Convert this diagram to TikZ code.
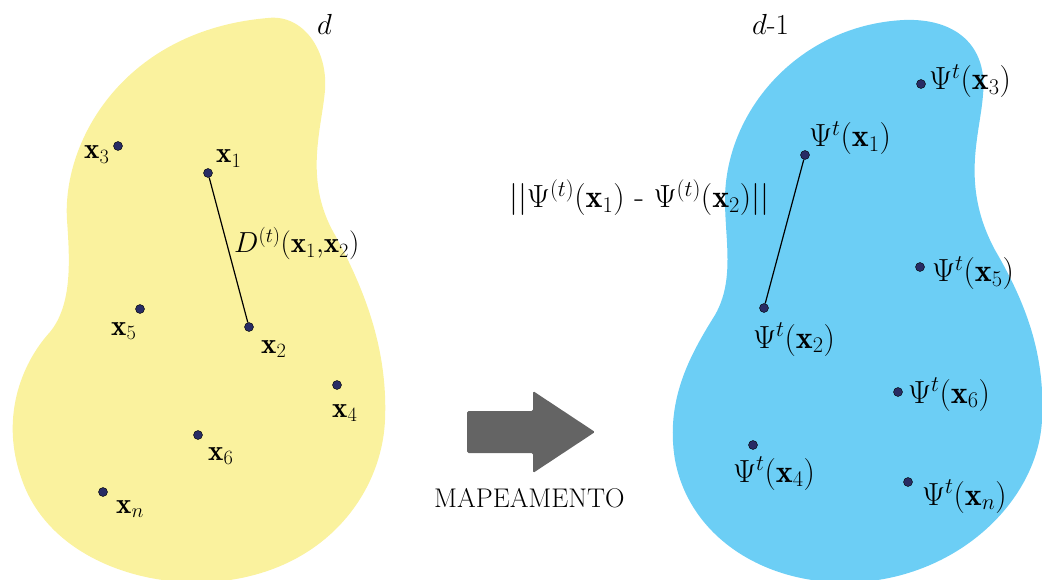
\RequirePackage{fix-cm}
\documentclass[tikz,border=0pt]{standalone}
\usepackage{fontspec}
\definecolor{blobyellow}{RGB}{250,242,158}
\definecolor{blobblue}{RGB}{108,206,245}
\definecolor{dotnavy}{RGB}{40,44,100}
\definecolor{arrowgray}{RGB}{100,100,100}
\tikzset{
  dotpt/.style={circle, fill=dotnavy, draw=black, line width=0.4pt, inner sep=0pt, minimum size=9pt},
  lbl/.style={inner sep=0pt, anchor=base west, font=\fontsize{29}{31}\selectfont},
  plbl/.style={inner sep=0pt, anchor=base west, font=\fontsize{32}{34}\selectfont},
  caption/.style={inner sep=0pt, anchor=base west, font=\fontsize{27}{29}\selectfont},
  link/.style={draw=black, line width=1.2pt},
}
\begin{document}
\begin{tikzpicture}[x=1pt,y=-1pt]
\useasboundingbox (0,0) rectangle (1042,580);
% yellow blob
\fill[blobyellow] (268,18) .. controls (303,14) and (328,50) .. (325,90)
  .. controls (322,128) and (303,180) .. (335,235)
  .. controls (365,290) and (388,350) .. (385,420)
  .. controls (382,490) and (330,565) .. (230,580)
  .. controls (150,592) and (50,560) .. (22,480)
  .. controls (0,420) and (20,365) .. (50,332)
  .. controls (72,305) and (70,262) .. (67,220)
  .. controls (62,140) and (125,30) .. (268,18) -- cycle;
% blue blob
\fill[blobblue] (904,20) .. controls (955,18) and (988,45) .. (983,95)
  .. controls (980,135) and (960,185) .. (995,250)
  .. controls (1030,310) and (1045,360) .. (1042,420)
  .. controls (1038,500) and (960,575) .. (860,582)
  .. controls (770,588) and (690,540) .. (675,460)
  .. controls (665,400) and (690,355) .. (715,315)
  .. controls (735,280) and (725,240) .. (725,200)
  .. controls (725,110) and (800,25) .. (904,20) -- cycle;

% dimension labels
\node[lbl] (dl) at (317,35) {$d$};
\node[lbl] (dr) at (752,35) {$d$-1};

% left points
\node[dotpt] (p1) at (208,173) {};
\node[dotpt] (p2) at (249,327) {};
\node[dotpt] (p3) at (118,146) {};
\node[dotpt] (p4) at (337,385) {};
\node[dotpt] (p5) at (140,309) {};
\node[dotpt] (p6) at (198,435) {};
\node[dotpt] (pn) at (103,492) {};
\draw[link] (p1) -- (p2);
\node[lbl] (l1) at (216,163) {$\mathbf{x}_1$};
\node[lbl] (l2) at (261,353) {$\mathbf{x}_2$};
\node[lbl] (l3) at (84,159) {$\mathbf{x}_3$};
\node[lbl] (l4) at (332,417) {$\mathbf{x}_4$};
\node[lbl] (l5) at (111,335) {$\mathbf{x}_5$};
\node[lbl] (l6) at (208,460) {$\mathbf{x}_6$};
\node[lbl] (ln) at (116,513) {$\mathbf{x}_n$};
\node[lbl] (dist) at (234,253) {$D^{(t)}(\mathbf{x}_1{,}\mathbf{x}_2)$};

% arrow
\fill[arrowgray, rounded corners=1.5pt] (467,411) -- (533,411) -- (533,391) -- (595,432)
  -- (533,473) -- (533,453) -- (467,453) -- cycle;
\node[caption] (map) at (434,507) {MAPEAMENTO};

% right points
\node[dotpt] (q1) at (805,155) {};
\node[dotpt] (q2) at (764,308) {};
\node[dotpt] (q3) at (921,84) {};
\node[dotpt] (q4) at (753,445) {};
\node[dotpt] (q5) at (920,267) {};
\node[dotpt] (q6) at (898,392) {};
\node[dotpt] (qn) at (908,482) {};
\draw[link] (q1) -- (q2);
\node[plbl] (m1) at (809,147) {$\Psi^t(\mathbf{x}_1)$};
\node[plbl] (m2) at (753,348) {$\Psi^t(\mathbf{x}_2)$};
\node[plbl] (m3) at (929,90) {$\Psi^t(\mathbf{x}_3)$};
\node[plbl] (m4) at (733,482) {$\Psi^t(\mathbf{x}_4)$};
\node[plbl] (m5) at (932,282) {$\Psi^t(\mathbf{x}_5)$};
\node[plbl] (m6) at (908,403) {$\Psi^t(\mathbf{x}_6)$};
\node[plbl] (mn) at (922,505) {$\Psi^t(\mathbf{x}_n)$};
\node[plbl] (pdist) at (509,208) {$||\Psi^{(t)}(\mathbf{x}_1)$ - $\Psi^{(t)}(\mathbf{x}_2)||$};
\end{tikzpicture}
\end{document}
